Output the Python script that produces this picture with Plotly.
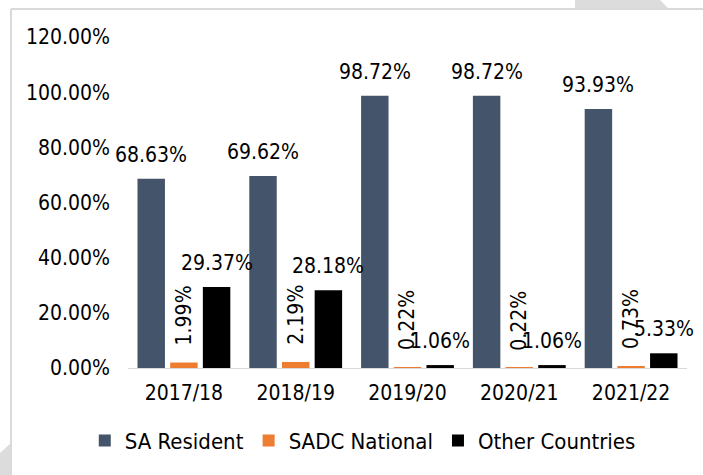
import plotly.graph_objects as go

years = ["2017/18", "2018/19", "2019/20", "2020/21", "2021/22"]
sa_resident = [68.63, 69.62, 98.72, 98.72, 93.93]
sadc_national = [1.99, 2.19, 0.22, 0.22, 0.73]
other_countries = [29.37, 28.18, 1.06, 1.06, 5.33]
series_names = ["SA Resident", "SADC National", "Other Countries"]
series_colors = ["#44546A", "#ED7D31", "#000000"]
label_angles = [0, -90, 0]
y_ticks = [0, 20, 40, 60, 80, 100, 120]

FONT = "DejaVu Sans Condensed, DejaVu Sans, sans-serif"
FS = 21
W, H = 703, 475
ML, MR, MT, MB = 128, 16, 37, 107
BARGAP = 0.123
BARGROUPGAP = 0.16

fig = go.Figure()
all_series = [sa_resident, sadc_national, other_countries]
for name, vals, col in zip(series_names, all_series, series_colors):
    fig.add_trace(go.Bar(name=name, x=years, y=vals, marker=dict(color=col, line=dict(width=0))))

# data labels
nser = len(all_series)
slot = (1 - BARGAP) / nser
anns = []
for k, (vals, ang) in enumerate(zip(all_series, label_angles)):
    off = (k - (nser - 1) / 2) * slot
    for i, v in enumerate(vals):
        anns.append(dict(
            x=i + off, y=v, xref="x", yref="y", text=f"{v:.2f}%", showarrow=False,
            textangle=ang, xanchor="center", yanchor="bottom",
            yshift=(10 if ang == 0 else 15),
            font=dict(family=FONT, size=FS, color="#000000"),
        ))

# background decoration (page frame)
pw, ph = W - ML - MR, H - MT - MB
def px(x):
    return (x - ML) / pw
def py(y):
    return (H - MB - y) / ph

shapes = [
    dict(type="path", xref="paper", yref="paper", layer="below",
         path=f"M {px(575)},{py(0)} L {px(660)},{py(0)} L {px(668)},{py(8)} L {px(575)},{py(8)} Z",
         fillcolor="#DCDCDC", line=dict(width=0)),
    dict(type="path", xref="paper", yref="paper", layer="below",
         path=f"M {px(0)},{py(453)} L {px(11)},{py(443)} L {px(11)},{py(475)} L {px(0)},{py(475)} Z",
         fillcolor="#DCDCDC", line=dict(width=0)),
    dict(type="line", xref="paper", yref="paper", x0=px(11), x1=px(11), y0=py(9), y1=py(475),
         line=dict(color="#D9D9D9", width=2)),
    dict(type="line", xref="paper", yref="paper", x0=px(11), x1=px(703), y0=py(9), y1=py(9),
         line=dict(color="#D9D9D9", width=2)),
]

fig.update_layout(
    width=W, height=H,
    margin=dict(l=ML, r=MR, t=MT, b=MB),
    paper_bgcolor="white", plot_bgcolor="white",
    barmode="group", bargap=BARGAP, bargroupgap=BARGROUPGAP,
    font=dict(family=FONT, size=FS, color="#000000"),
    showlegend=True,
    legend=dict(orientation="h", x=0.42, xanchor="center", y=-0.22, yanchor="middle",
                font=dict(family=FONT, size=22, color="#000000"),
                itemwidth=30, tracegroupgap=0),
    annotations=anns,
    shapes=shapes,
)
fig.update_yaxes(range=[0, 120], tickvals=y_ticks, ticktext=[f"{t:.2f}%" for t in y_ticks],
                 showgrid=False, zeroline=False, showline=False, ticks="",
                 ticklabelstandoff=17, tickfont=dict(family=FONT, size=FS))
fig.update_xaxes(showline=True, linecolor="#D9D9D9", linewidth=1, ticks="",
                 ticklabelstandoff=6, tickfont=dict(family=FONT, size=FS),
                 range=[-0.5, len(years) - 0.5])

fig.write_html("out.html", config={"displayModeBar": False},
               post_script="document.body.style.margin='0';document.body.style.padding='0';")
